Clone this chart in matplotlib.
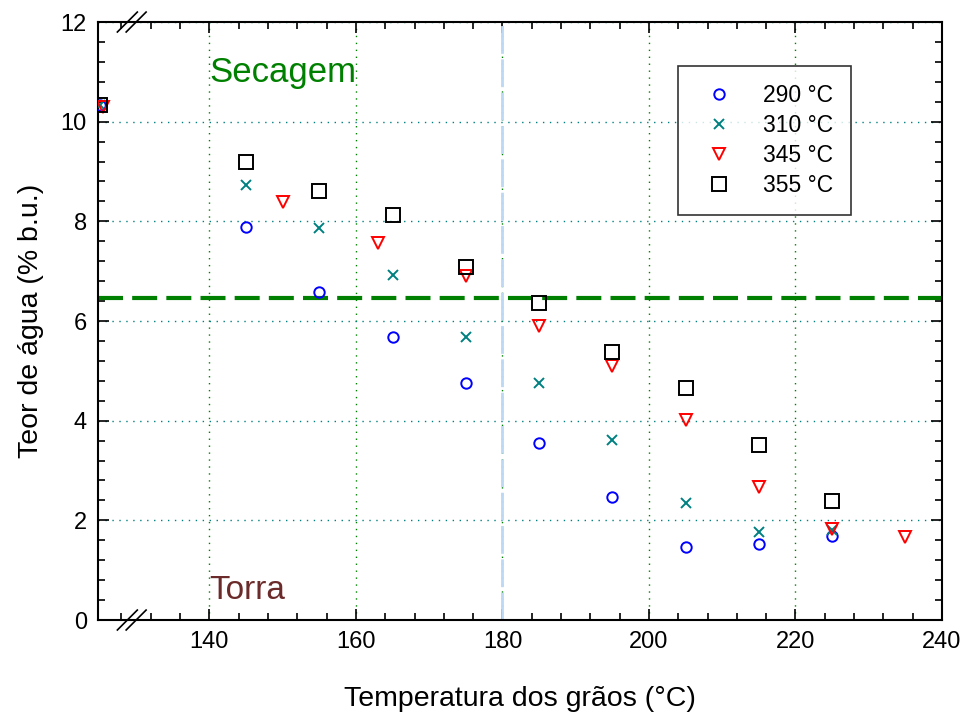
import numpy as np
import matplotlib.pyplot as plt
from matplotlib.ticker import MultipleLocator

plt.rcParams['font.family'] = ['Liberation Sans', 'DejaVu Sans']

# data
x_290 = [125, 145, 155, 165, 175, 185, 195, 205, 215, 225]
y_290 = [10.33, 7.88, 6.59, 5.67, 4.75, 3.55, 2.47, 1.46, 1.52, 1.68]

x_310 = [125, 145, 155, 165, 175, 185, 195, 205, 215, 225]
y_310 = [10.33, 8.72, 7.86, 6.93, 5.67, 4.75, 3.61, 2.34, 1.76, 1.80]

x_345 = [125.5, 150, 163, 175, 185, 195, 205, 215, 225, 235]
y_345 = [10.30, 8.38, 7.56, 6.91, 5.91, 5.09, 4.01, 2.67, 1.82, 1.66]

x_355 = [125, 145, 155, 165, 175, 185, 195, 205, 215, 225]
y_355 = [10.33, 9.20, 8.60, 8.12, 7.09, 6.37, 5.37, 4.65, 3.51, 2.38]

limite_secagem = 6.47
temp_transicao = 180

fig = plt.figure(figsize=(9.64, 7.13), dpi=100)
ax = fig.add_axes([0.1017, 0.1304, 0.8755, 0.8387])

ax.set_xlim(124.8, 240)
ax.set_ylim(0, 12)

ax.grid(True, axis='x', color='green', linestyle=(0, (1, 4)), linewidth=1)
ax.grid(True, axis='y', color='teal', linestyle=(0, (1, 4)), linewidth=1)
ax.set_axisbelow(True)

ax.axvline(temp_transicao, color='#bcd8f2', linewidth=2, linestyle=(0, (10, 2)), zorder=2)
ax.axhline(limite_secagem, color='green', linewidth=3, linestyle=(0, (6, 2.2)), zorder=2)

ms = dict(linestyle='none', markerfacecolor='none', markeredgewidth=1.4, zorder=3)
ax.plot(x_290, y_290, marker='o', color='blue', markersize=7.5, label='290 °C', **ms)
ax.plot(x_310, y_310, marker='x', color='teal', markersize=7.5, label='310 °C', **ms)
ax.plot(x_345, y_345, marker='v', color='red', markersize=8, label='345 °C', **ms)
ax.plot(x_355, y_355, marker='s', color='black', markersize=9.5, label='355 °C', **ms)

ax.text(140, 10.98, 'Secagem', color='green', fontsize=25, va='center', ha='left')
ax.text(140, 0.6, 'Torra', color='#6b2b2b', fontsize=24, va='center', ha='left')

ax.xaxis.set_major_locator(MultipleLocator(20))
ax.xaxis.set_minor_locator(MultipleLocator(4))
ax.yaxis.set_major_locator(MultipleLocator(2))
ax.yaxis.set_minor_locator(MultipleLocator(0.4))
ax.tick_params(which='both', direction='in', top=True, right=True, width=1.2)
ax.tick_params(which='major', length=8, labelsize=17, pad=8)
ax.tick_params(which='minor', length=5)
ax.set_xticks([140, 160, 180, 200, 220, 240])
for s in ax.spines.values():
    s.set_linewidth(1.5)

ax.set_xlabel('Temperatura dos grãos (°C)', fontsize=20.5, labelpad=24)
ax.set_ylabel('Teor de água (% b.u.)', fontsize=20.5, labelpad=12)

# axis break marks
for xb in (128.8, 130.0):
    for yb in (0, 12):
        ax.plot([xb - 1.36, xb + 1.36], [yb - 0.2, yb + 0.2], color='black',
                linewidth=1.2, clip_on=False, zorder=5)

leg = ax.legend(loc='upper left', bbox_to_anchor=(678 / 964, 1 - 66 / 713),
                bbox_transform=fig.transFigure, fontsize=16.5, frameon=True,
                fancybox=False, edgecolor='black', handletextpad=0.9,
                borderpad=0.8, labelspacing=0.3, borderaxespad=0)
leg.get_frame().set_linewidth(1.2)

fig.savefig('out.png', dpi=100)
